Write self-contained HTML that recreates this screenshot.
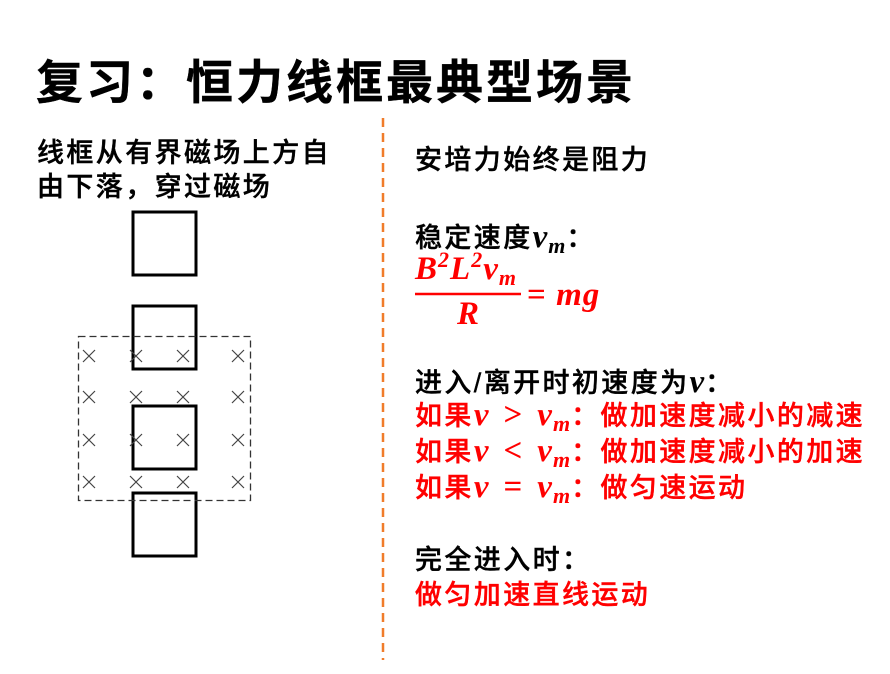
<!DOCTYPE html>
<html><head><meta charset="utf-8"><style>
body{margin:0;width:890px;height:674px;background:#fff;position:relative;overflow:hidden;font-family:"Liberation Sans","Noto Sans CJK SC",sans-serif;}
.t{position:absolute;white-space:nowrap;font-size:27px;line-height:34px;letter-spacing:2.4px;color:#000;font-weight:500;-webkit-text-stroke:0.4px currentColor;}
.r{color:#f00;}
.m{font-family:"Liberation Serif",serif;font-style:italic;font-weight:bold;letter-spacing:1px;font-size:33px;-webkit-text-stroke:0;}
.o{display:inline-block;margin:0 14px;font-style:normal;}
sub{font-size:22px;vertical-align:-6px;line-height:0;}
sup{font-size:22px;vertical-align:12px;line-height:0;}
</style></head><body>
<div class="t" style="left:36px;top:54px;font-size:47px;line-height:58px;font-weight:bold;letter-spacing:3px;">复习：恒力线框最典型场景</div>
<div class="t" style="left:37px;top:136px;">线框从有界磁场上方自</div>
<div class="t" style="left:37px;top:170px;">由下落，穿过磁场</div>
<svg style="position:absolute;left:0;top:0" width="890" height="674">
<g fill="none" stroke="#000" stroke-width="3">
<rect x="133" y="212" width="63" height="63"/>
<rect x="133" y="306" width="63" height="63"/>
<rect x="133" y="406" width="63" height="63"/>
<rect x="133" y="493" width="63" height="63"/>
</g>
<rect x="78.5" y="336.5" width="172" height="164" fill="none" stroke="#333" stroke-width="1.3" stroke-dasharray="7,4"/>
<g stroke="#444" stroke-width="1.2">
<path d="M83,391l12,12M95,391l-12,12M130,391l12,12M142,391l-12,12M177,391l12,12M189,391l-12,12M232,391l12,12M244,391l-12,12"/>
<path d="M83,350l12,12M95,350l-12,12M130,350l12,12M142,350l-12,12M177,350l12,12M189,350l-12,12M232,350l12,12M244,350l-12,12"/>
<path d="M83,434l12,12M95,434l-12,12M130,434l12,12M142,434l-12,12M177,434l12,12M189,434l-12,12M232,434l12,12M244,434l-12,12"/>
<path d="M83,476l12,12M95,476l-12,12M130,476l12,12M142,476l-12,12M177,476l12,12M189,476l-12,12M232,476l12,12M244,476l-12,12"/>
</g>
<line x1="383" y1="118" x2="383" y2="660" stroke="#f07c2a" stroke-width="2.5" stroke-dasharray="9,6"/>
<line x1="415" y1="294" x2="521" y2="294" stroke="#f00" stroke-width="2.5"/>
</svg>
<div class="t" style="left:415px;top:143px;">安培力始终是阻力</div>
<div class="t" style="left:415px;top:220px;">稳定速度<span class="m">v<sub>m</sub></span>：</div>
<div class="t r m" style="left:415px;top:252px;">B<sup>2</sup>L<sup>2</sup>v<sub>m</sub></div>
<div class="t r m" style="left:457px;top:297px;">R</div>
<div class="t r m" style="left:527px;top:278px;"><span style="font-style:normal">=</span> mg</div>
<div class="t" style="left:415px;top:365px;">进入/离开时初速度为<span class="m">v</span>：</div>
<div class="t r" style="left:415px;top:398px;">如果<span class="m">v<span class="o">&gt;</span>v<sub>m</sub></span>：做加速度减小的减速</div>
<div class="t r" style="left:415px;top:434px;">如果<span class="m">v<span class="o">&lt;</span>v<sub>m</sub></span>：做加速度减小的加速</div>
<div class="t r" style="left:415px;top:470px;">如果<span class="m">v<span class="o">=</span>v<sub>m</sub></span>：做匀速运动</div>
<div class="t" style="left:415px;top:543px;">完全进入时：</div>
<div class="t r" style="left:415px;top:578px;">做匀加速直线运动</div>
</body></html>
